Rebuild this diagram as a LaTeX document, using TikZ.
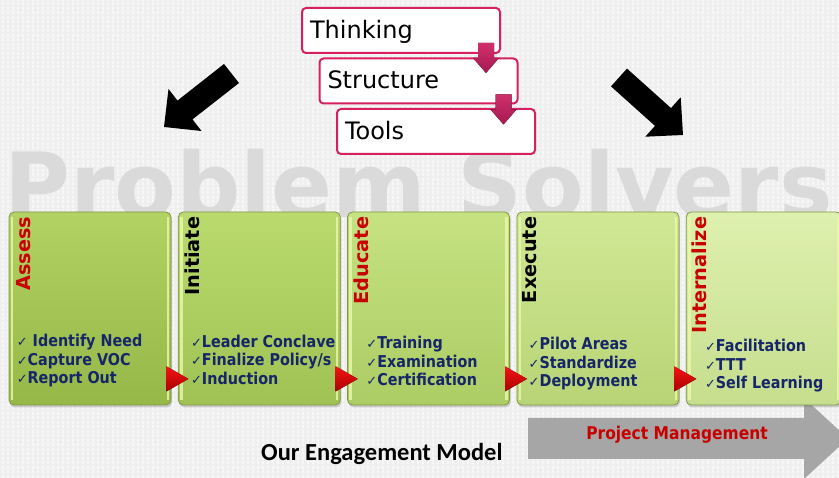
\documentclass[tikz,border=0pt]{standalone}
\usepackage{fontspec}
\setmainfont{DejaVu Sans}
\newfontfamily\itemfont[FakeStretch=0.88]{DejaVu Sans}
\newfontfamily\modelfont{Carlito}
\usetikzlibrary{positioning,shadows}

\definecolor{backdrop}{RGB}{239,239,239}
\definecolor{watermark}{RGB}{218,218,218}
\definecolor{crimsonline}{RGB}{214,32,96}
\definecolor{navytext}{RGB}{22,38,104}
\definecolor{titlered}{RGB}{200,0,0}
\definecolor{arrowgray}{RGB}{166,166,166}
\definecolor{boxedge}{RGB}{128,150,72}
\definecolor{gonetop}{RGB}{178,210,100}
\definecolor{gonebot}{RGB}{150,184,72}
\definecolor{gtwotop}{RGB}{186,218,110}
\definecolor{gtwobot}{RGB}{160,194,84}
\definecolor{gthreetop}{RGB}{198,226,130}
\definecolor{gthreebot}{RGB}{172,204,100}
\definecolor{gfourtop}{RGB}{208,232,148}
\definecolor{gfourbot}{RGB}{184,212,118}
\definecolor{gfivetop}{RGB}{222,240,174}
\definecolor{gfivebot}{RGB}{198,222,142}

\newcommand\checkmk{{\normalfont\fontsize{13}{13}\selectfont ✓}}

\tikzset{
  stepbox/.style={draw=crimsonline, line width=2pt, rounded corners=4pt, fill=white,
    minimum width=198pt, minimum height=45pt, text width=182pt, inner xsep=8pt,
    align=left, text height=16pt, text depth=0pt, font=\fontsize{24}{28}\selectfont},
  flowtip/.style={top color={rgb,255:red,208;green,48;blue,108}, bottom color={rgb,255:red,165;green,25;blue,80}},
  stage/.style={draw=boxedge, line width=0.8pt, rounded corners=5pt, minimum width=162pt,
    minimum height=193pt, inner sep=0pt,
    drop shadow={shadow xshift=1pt, shadow yshift=-2.5pt, opacity=0.35}},
  edgeglow/.style={draw={rgb,255:red,236;green,248;blue,170}, line width=2.5pt, opacity=0.8},
  stagetitle/.style={rotate=90, anchor=base east, inner sep=0pt, font=\bfseries\fontsize{19.3}{22}\selectfont},
  checklist/.style={anchor=base west, inner sep=0pt, align=left, text=navytext,
    font=\itemfont\bfseries\fontsize{16.3}{18.5}\selectfont},
  redtip/.style={top color={rgb,255:red,245;green,20;blue,20}, bottom color={rgb,255:red,170;green,0;blue,0}},
}

\begin{document}
\begin{tikzpicture}[x=1pt, y=1pt]
  \useasboundingbox (0,0) rectangle (839,478);
  \clip (0,0) rectangle (839,478);
  % backdrop with faint stripes
  \fill[backdrop] (0,0) rectangle (839,478);
  \foreach \x in {3,8,...,838}
    \draw[white, line width=1.2pt, opacity=0.55, dash pattern=on 3pt off 1.5pt] (\x,0) -- (\x,478);
  \node[anchor=base west, inner sep=0pt, text=watermark, font=\bfseries\fontsize{90}{90}\selectfont] (solvers) at (4,260) {Problem Solvers};

  % project management arrow
  \fill[arrowgray] (528,60) -- (804,60) -- (804,80) -- (848,39.5) -- (804,-1) -- (804,19) -- (528,19) -- cycle;
  \node[anchor=base, inner sep=0pt, text=titlered, font=\itemfont\bfseries\fontsize{17.6}{18}\selectfont] (pm) at (677,38) {Project Management};

  % black arrows
  \fill[black] (224,414) -- (239,395) -- (192.5,358.6) -- (201.5,347) -- (164,351) -- (168.5,389) -- (177.5,377.4) -- cycle;
  \fill[black] (627,409.4) -- (671,369.9) -- (680.7,380.7) -- (683,343) -- (645.3,341.3) -- (655,352.1) -- (611,391.6) -- cycle;

  % thinking - structure - tools
  \node[stepbox] (thinking) at (401,447.5) {Thinking};
  \node[stepbox] (structure) at (418.5,397) {Structure};
  \node[stepbox] (tools) at (436,346.5) {Tools};
  \fill[flowtip] ([xshift=-23pt,yshift=11pt]thinking.south east) -- ++(16,0) -- ++(0,-15) -- ++(5,0) -- ++(-13,-15) -- ++(-13,15) -- ++(5,0) -- cycle;
  \fill[flowtip] ([xshift=-23pt,yshift=10pt]structure.south east) -- ++(16,0) -- ++(0,-15) -- ++(5,0) -- ++(-13,-15) -- ++(-13,15) -- ++(5,0) -- cycle;

  % engagement stages
  \node[stage, top color=gonetop, bottom color=gonebot] (assess) at (90,169.5) {};
  \node[stage, top color=gtwotop, bottom color=gtwobot, right=6.5pt of assess] (initiate) {};
  \node[stage, top color=gthreetop, bottom color=gthreebot, right=6.5pt of initiate] (educate) {};
  \node[stage, top color=gfourtop, bottom color=gfourbot, right=6.5pt of educate] (execute) {};
  \node[stage, top color=gfivetop, bottom color=gfivebot, minimum width=155pt, right=6.5pt of execute] (internalize) {};
  \foreach \b in {assess,initiate,educate,execute,internalize} {
    \draw[edgeglow] ([xshift=3.5pt,yshift=-5pt]\b.north west) -- ([xshift=3.5pt,yshift=5pt]\b.south west);
    \draw[edgeglow] ([xshift=-3.5pt,yshift=-5pt]\b.north east) -- ([xshift=-3.5pt,yshift=5pt]\b.south east);
  }

  \node[stagetitle, text=titlered] (assesstitle) at ([xshift=22pt,yshift=-5pt]assess.north west) {Assess};
  \node[stagetitle, text=black] (initiatetitle) at ([xshift=22pt,yshift=-5pt]initiate.north west) {Initiate};
  \node[stagetitle, text=titlered] (educatetitle) at ([xshift=21pt,yshift=-5pt]educate.north west) {Educate};
  \node[stagetitle, text=black] (executetitle) at ([xshift=20pt,yshift=-5pt]execute.north west) {Execute};
  \node[stagetitle, text=titlered] (internalizetitle) at ([xshift=21pt,yshift=-5pt]internalize.north west) {Internalize};

  % lists sit on the baseline of their last line
  \node[checklist] (assesslist) at ([xshift=8pt,yshift=-172pt]assess.north west) {\checkmk{} Identify Need\\\checkmk Capture VOC\\\checkmk Report Out};
  \node[checklist] (initiatelist) at ([xshift=13pt,yshift=-172.5pt]initiate.north west) {\checkmk Leader Conclave\\\checkmk Finalize Policy/s\\\checkmk Induction};
  \node[checklist] (educatelist) at ([xshift=19pt,yshift=-174pt]educate.north west) {\checkmk Training\\\checkmk Examination\\\checkmk Certification};
  \node[checklist] (executelist) at ([xshift=12pt,yshift=-175pt]execute.north west) {\checkmk Pilot Areas\\\checkmk Standardize\\\checkmk Deployment};
  \node[checklist] (internalizelist) at ([xshift=19pt,yshift=-177pt]internalize.north west) {\checkmk Facilitation\\\checkmk TTT\\\checkmk Self Learning};

  % red pointers between stages
  \fill[redtip] ([shift={(-5pt,39pt)}]assess.south east) -- ++(0,-25) -- ++(22,12.5) -- cycle;
  \fill[redtip] ([shift={(-5pt,39pt)}]initiate.south east) -- ++(0,-25) -- ++(22,12.5) -- cycle;
  \fill[redtip] ([shift={(-5pt,39pt)}]educate.south east) -- ++(0,-25) -- ++(22,12.5) -- cycle;
  \fill[redtip] ([shift={(-5pt,39pt)}]execute.south east) -- ++(0,-25) -- ++(22,12.5) -- cycle;

  \node[anchor=base west, inner sep=0pt, font=\modelfont\bfseries\fontsize{24.5}{25}\selectfont] (model) at (261,17) {Our Engagement Model};
\end{tikzpicture}
\end{document}
